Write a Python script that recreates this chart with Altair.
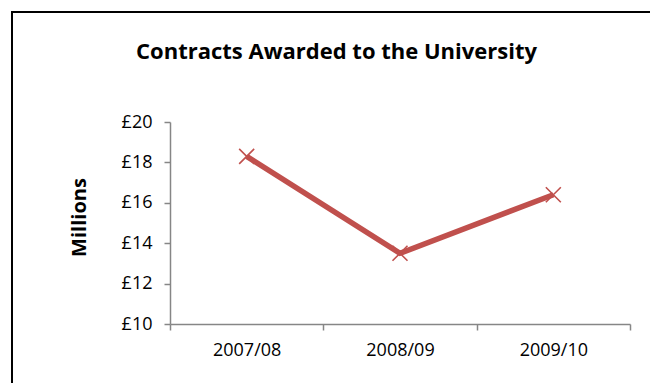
import altair as alt
import pandas as pd

years = ["2007/08", "2008/09", "2009/10"]
values = [18.3, 13.5, 16.4]
y_ticks = [10, 12, 14, 16, 18, 20]
title_text = "Contracts Awarded to the University"

df = pd.DataFrame({"year": years, "value": values})

FONT = "Open Sans"
RED = "#C0504D"
GREY = "#868686"

x_enc = alt.X(
    "year:N",
    sort=years,
    scale=alt.Scale(paddingInner=0, paddingOuter=0),
    axis=alt.Axis(
        title=None, labelAngle=0, tickBand="extent", tickSize=6,
        domainColor=GREY, tickColor=GREY, domainWidth=1.5, tickWidth=1.5,
        labelFont=FONT, labelFontSize=18, labelColor="black", labelPadding=11,
        grid=False,
    ),
)
y_enc = alt.Y(
    "value:Q",
    scale=alt.Scale(domain=[10, 20], nice=False, zero=False),
    axis=alt.Axis(
        values=y_ticks, labelExpr="'£' + datum.value", tickSize=6,
        domainColor=GREY, tickColor=GREY, domainWidth=1.5, tickWidth=1.5,
        labelFont=FONT, labelFontSize=18, labelColor="black", labelPadding=12,
        grid=False,
        title="Millions", titleFont=FONT, titleFontSize=20, titleFontWeight="bold",
        titleAngle=-90, titleX=-91, titleY=95, titleAlign="center", titleBaseline="middle",
        titleColor="black",
    ),
)

line = alt.Chart(df).mark_line(color=RED, strokeWidth=5.5).encode(x=x_enc, y=y_enc)
pts = alt.Chart(df).mark_point(
    shape="M-1,-1L1,1M-1,1L1,-1", filled=False, color=RED, strokeWidth=1.6,
    size=225, opacity=1,
).encode(x=alt.X("year:N", sort=years), y="value:Q")

border = alt.Chart(pd.DataFrame({"a": [0]})).mark_rect(
    fill=None, stroke="black", strokeWidth=2, clip=False
).encode(
    x=alt.value(-158), y=alt.value(-110), x2=alt.value(540), y2=alt.value(320)
)

title = alt.Chart(pd.DataFrame({"t": [title_text]})).mark_text(
    font=FONT, fontSize=22, fontWeight="bold", color="black",
    align="center", baseline="alphabetic", clip=False,
).encode(text="t:N", x=alt.value(166.5), y=alt.value(-63))

chart = alt.layer(border, line, pts, title).properties(
    width=460,
    height=202,
    background="white",
    autosize=alt.AutoSizeParams(type="none"),
    padding={"left": 170, "top": 122, "right": 20, "bottom": 59},
).configure_view(strokeWidth=0)

chart.save("out.html", embed_options={"renderer": "svg", "actions": False})
